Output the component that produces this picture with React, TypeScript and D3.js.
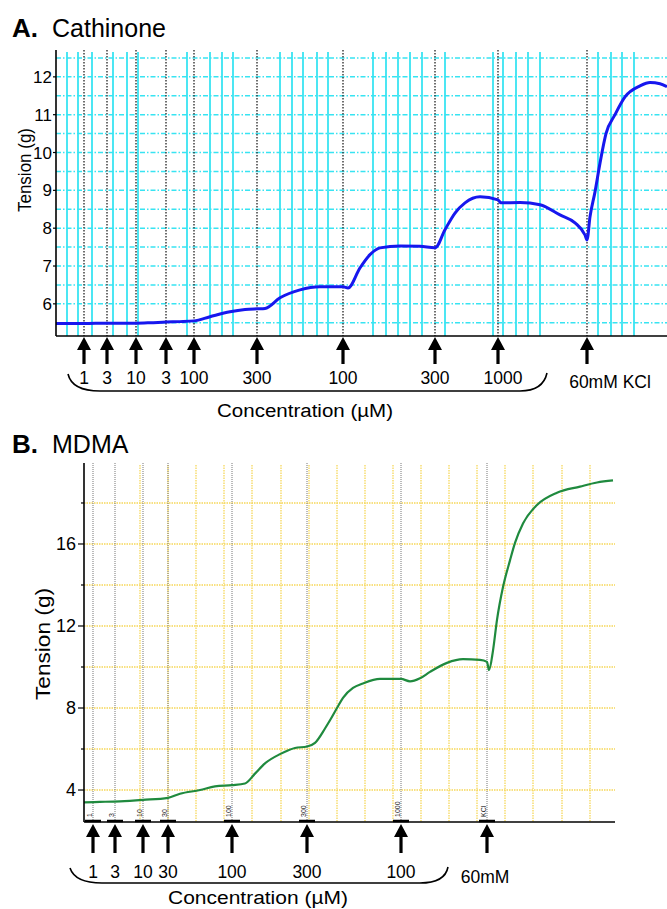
import React from "react";
import * as d3 from "d3";

// ---------- Panel A: Cathinone ----------
const aTime = [0, 5.6, 10.2, 16, 18.8, 22, 24.8, 27.6, 30.8, 34.8, 37.8, 40.2, 41.8, 44.8, 48.8, 52.8, 57.4, 58.4, 60.8, 62.8, 64.8, 68.8, 72.8, 75.8, 77.8, 79.8, 81.8, 84.8, 88.4, 89, 92.8, 96.8, 100.8, 103.8, 105.8, 106.2, 106.8, 107.8, 108.8, 110, 111.8, 113.8, 116.8, 118.8, 120.8, 122.2];
const aTension = [5.48, 5.48, 5.49, 5.49, 5.5, 5.52, 5.53, 5.55, 5.66, 5.79, 5.85, 5.87, 5.88, 6.16, 6.37, 6.45, 6.45, 6.42, 6.95, 7.3, 7.48, 7.53, 7.52, 7.48, 7.96, 8.4, 8.67, 8.83, 8.75, 8.67, 8.68, 8.62, 8.35, 8.14, 7.82, 7.69, 8.3, 8.96, 9.72, 10.5, 11.0, 11.47, 11.76, 11.85, 11.82, 11.74];
const aMarkers = [5.6, 10.2, 16, 22, 27.6, 40.2, 57.4, 75.8, 88.4, 106.2];
const aLabels = ["1", "3", "10", "3", "100", "300", "100", "300", "1000"];
const aKclLabel = "60mM KCl";
const aGridX = [2.2, 4.4, 7.2, 11.4, 14.2, 16.4, 26.2, 30.8, 33.2, 35.4, 44.8, 47.2, 49.4, 52.2, 54.4, 63.4, 66, 68.4, 70.8, 73.2, 77.8, 87.4, 89.4, 92, 94.4, 96.8, 108.4, 111, 113.2, 115.6];
const aGridY = [5.5, 6, 6.5, 7, 7.5, 8, 8.5, 9, 9.5, 10, 10.5, 11, 11.5, 12, 12.5];
const aTicks = [6, 7, 8, 9, 10, 11, 12];

// ---------- Panel B: MDMA ----------
const bTime = [0, 3.2, 7.2, 11.8, 16.8, 19.2, 23.2, 26.2, 29.6, 32.2, 34.2, 36.2, 39.2, 42.2, 44.6, 46.2, 48.2, 49.2, 50.6, 51.8, 53.8, 55.8, 59.2, 63.4, 65.2, 67.2, 69.2, 72.6, 75.8, 79.2, 80.6, 81, 81.8, 82.6, 83.8, 85.2, 86.2, 87.8, 90.6, 94.6, 99.2, 102.6, 105.8];
const bTension = [3.4, 3.42, 3.45, 3.52, 3.62, 3.82, 4.0, 4.18, 4.24, 4.32, 4.8, 5.3, 5.75, 6.05, 6.12, 6.3, 7.0, 7.4, 8.0, 8.5, 8.98, 9.2, 9.42, 9.42, 9.3, 9.45, 9.76, 10.2, 10.38, 10.35, 10.25, 9.85, 10.8, 12.3, 13.9, 15.2, 16.05, 17.0, 17.9, 18.5, 18.8, 19.0, 19.1];
const bMarkers = [1.8, 6.2, 11.8, 16.8, 29.6, 44.6, 63.4, 80.6];
const bLabels = ["1", "3", "10", "30", "100", "300", "100"];
const bKclLabel = "60mM";
const bTinyLabels = ["1", "3", "10", "30", "100", "300", "1000", "KCl"];
const bGridX = [11.2, 16.8, 22.4, 28, 33.6, 39.4, 45, 50.6, 56.2, 61.8, 67.4, 73, 78.6, 84.2, 89.8, 95.6, 101.2];
const bGridY = [4, 6, 8, 10, 12, 14, 16, 18];
const bTicks = [4, 8, 12, 16];
const bMinorTicks = [6, 10, 14, 18];

const FONT = "'Liberation Sans', Arial, Helvetica, sans-serif";

function Arrow({ x, tip, bottom }: { x: number; tip: number; bottom: number }) {
  const hw = 7, hl = 13, sw = 1.6;
  const d = `M${x},${tip} L${x + hw},${tip + hl} L${x + sw},${tip + hl} L${x + sw},${bottom} L${x - sw},${bottom} L${x - sw},${tip + hl} L${x - hw},${tip + hl} Z`;
  return <path d={d} fill="#000" />;
}

export default function App() {
  // Panel A scales
  const aL = 56, aR = 667, aT = 50, aB = 336;
  const ax = d3.scaleLinear().domain([0, 122.2]).range([aL, aR]);
  const ay = d3.scaleLinear().domain([5.15, 12.71]).range([aB, aT]);
  const aLine = d3
    .line<number>()
    .x((_, i) => ax(aTime[i]))
    .y((v) => ay(v))
    .curve(d3.curveMonotoneX);

  // Panel B scales
  const bL = 84, bR = 615, bT = 463, bB = 822;
  const bx = d3.scaleLinear().domain([0, 106.2]).range([bL, bR]);
  const by = d3.scaleLinear().domain([2.44, 19.95]).range([bB, bT]);
  const bLine = d3
    .line<number>()
    .x((_, i) => bx(bTime[i]))
    .y((v) => by(v))
    .curve(d3.curveMonotoneX);

  const cyan = "#38e4f2";
  const yellow = "#f6d85a";

  return (
    <svg
      width={667}
      height={909}
      style={{ position: "absolute", left: 0, top: 0, background: "#fff" }}
      fontFamily={FONT}
    >
      <rect x={0} y={0} width={667} height={909} fill="#fff" />

      {/* ===== Panel A ===== */}
      <text x={12} y={37} fontSize={26} fontWeight="bold" fill="#000">A.</text>
      <text x={52} y={37} fontSize={25} fill="#000">Cathinone</text>

      {aGridY.map((v) => (
        <line key={"agy" + v} x1={aL} x2={aR} y1={ay(v)} y2={ay(v)} stroke={cyan} strokeWidth={1.5} strokeDasharray="5,2,1.5,2" />
      ))}
      {aGridX.map((t) => (
        <line key={"agx" + t} x1={ax(t)} x2={ax(t)} y1={aT + 2} y2={aB} stroke={cyan} strokeWidth={1.8} />
      ))}
      {aMarkers.map((t) => (
        <line key={"am" + t} x1={ax(t)} x2={ax(t)} y1={aT} y2={aB} stroke="#222" strokeWidth={1.3} strokeDasharray="1.5,1.5" />
      ))}
      <path d={aLine(aTension) || ""} fill="none" stroke="#1717ee" strokeWidth={3} strokeLinejoin="round" />

      <line x1={aL} x2={aL} y1={aT} y2={aB} stroke="#000" strokeWidth={1.6} />
      <line x1={aL} x2={aR} y1={aB} y2={aB} stroke="#000" strokeWidth={1.6} />
      {aTicks.map((v) => (
        <g key={"at" + v}>
          <line x1={aL - 3} x2={aL} y1={ay(v)} y2={ay(v)} stroke="#000" strokeWidth={1.2} />
          <text x={aL - 4} y={ay(v)} dy="0.36em" fontSize={17} textAnchor="end" fill="#000">{v}</text>
        </g>
      ))}
      <text transform={`translate(31,170) rotate(-90)`} fontSize={19} textAnchor="middle" textLength={84} lengthAdjust="spacingAndGlyphs" fill="#000">Tension (g)</text>

      {aMarkers.map((t) => (
        <Arrow key={"aa" + t} x={ax(t)} tip={337} bottom={364} />
      ))}
      {aLabels.map((s, i) => (
        <text key={"al" + i} x={ax(aMarkers[i]) + (i === 8 ? 5 : 0)} y={384} fontSize={17.5} textAnchor="middle" fill="#000">{s}</text>
      ))}
      <text x={610} y={388} fontSize={17.5} textAnchor="middle" fill="#000">{aKclLabel}</text>
      <path d="M68,374 Q72,391 100,391 L520,391 Q543,391 547,373" fill="none" stroke="#000" strokeWidth={1.6} />
      <text x={217} y={417} fontSize={18} textLength={176} lengthAdjust="spacingAndGlyphs" fill="#000">Concentration (µM)</text>

      {/* ===== Panel B ===== */}
      <text x={12} y={453} fontSize={26} fontWeight="bold" fill="#000">B.</text>
      <text x={52} y={453} fontSize={25} fill="#000">MDMA</text>

      {bGridY.map((v) => (
        <line key={"bgy" + v} x1={bL} x2={bR} y1={by(v)} y2={by(v)} stroke={yellow} strokeWidth={1.3} strokeDasharray="1.5,1" />
      ))}
      {bGridX.map((t) => (
        <line key={"bgx" + t} x1={bx(t)} x2={bx(t)} y1={bT + 2} y2={bB} stroke={yellow} strokeWidth={1.3} strokeDasharray="1.5,1" />
      ))}
      {bMarkers.map((t) => (
        <line key={"bm" + t} x1={bx(t)} x2={bx(t)} y1={bT} y2={bB} stroke="#777" strokeWidth={1} strokeDasharray="1,1" />
      ))}
      <path d={bLine(bTension) || ""} fill="none" stroke="#1f8a3e" strokeWidth={2.2} strokeLinejoin="round" />

      {bMarkers.map((t, i) => (
        <g key={"bb" + t}>
          <line x1={bx(t) - 8} x2={bx(t) + 8} y1={bB - 1} y2={bB - 1} stroke="#000" strokeWidth={2.5} />
          <text transform={`translate(${bx(t) - 1},${bB - 5}) rotate(-90)`} fontSize={7} fill="#222">{bTinyLabels[i]}</text>
        </g>
      ))}

      <line x1={bL} x2={bL} y1={bT} y2={bB} stroke="#000" strokeWidth={1.6} />
      <line x1={bL} x2={bR} y1={bB} y2={bB} stroke="#000" strokeWidth={1.6} />
      {bTicks.map((v) => (
        <g key={"bt" + v}>
          <line x1={bL - 6} x2={bL} y1={by(v)} y2={by(v)} stroke="#000" strokeWidth={1.2} />
          <text x={bL - 8} y={by(v)} dy="0.36em" fontSize={18} textAnchor="end" fill="#000">{v}</text>
        </g>
      ))}
      {bMinorTicks.map((v) => (
        <line key={"bmt" + v} x1={bL - 3} x2={bL} y1={by(v)} y2={by(v)} stroke="#000" strokeWidth={1.2} />
      ))}
      <text transform={`translate(50,644) rotate(-90)`} fontSize={20} textAnchor="middle" textLength={112} lengthAdjust="spacingAndGlyphs" fill="#000">Tension (g)</text>

      {bMarkers.map((t) => (
        <Arrow key={"ba" + t} x={bx(t)} tip={824} bottom={853} />
      ))}
      {bLabels.map((s, i) => (
        <text key={"bl" + i} x={bx(bMarkers[i])} y={878} fontSize={17.5} textAnchor="middle" fill="#000">{s}</text>
      ))}
      <text x={485} y={883} fontSize={17.5} textAnchor="middle" fill="#000">{bKclLabel}</text>
      <path d="M70,868 Q75,883 102,883 L420,883 Q445,883 448,867" fill="none" stroke="#000" strokeWidth={1.6} />
      <text x={168} y={904} fontSize={18} textLength={180} lengthAdjust="spacingAndGlyphs" fill="#000">Concentration (µM)</text>
    </svg>
  );
}
